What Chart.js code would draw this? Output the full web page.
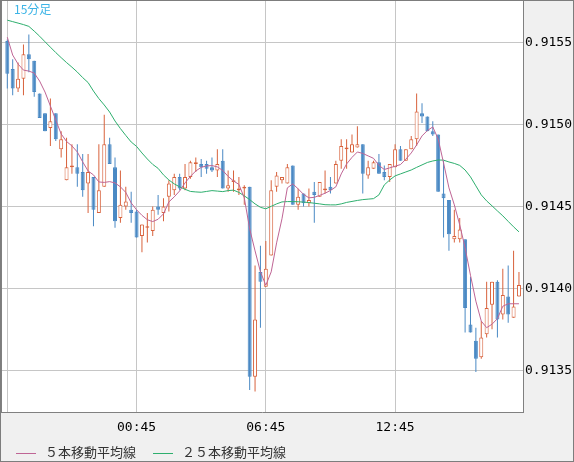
<!DOCTYPE html>
<html>
<head>
<meta charset="utf-8">
<title>15分足</title>
<script src="https://cdn.jsdelivr.net/npm/chart.js@4.4.0/dist/chart.umd.min.js"></script>
<style>
  body { margin:0; background:#f0f0f0; }
  #wrap { position:relative; width:574px; height:462px; box-sizing:border-box; border:1px solid #7d7d7d; background:#f0f0f0; }
  #chart { position:absolute; left:0; top:0; }
  #tf { position:absolute; left:13px; top:1px; font-family:"Noto Sans CJK JP"; font-size:12px; line-height:14px; color:#3cb4e6; }
  .item { position:absolute; top:443px; height:16px; font-family:"Noto Sans CJK JP"; font-size:13px; line-height:16px; color:#333; white-space:nowrap; }
  .item i { display:inline-block; width:20px; height:1px; margin-right:9px; vertical-align:middle; }
</style>
</head>
<body>
<div id="wrap">
  <canvas id="chart" width="572" height="460"></canvas>
  <div id="tf">15分足</div>
  <div class="item" style="left:15px"><i style="background:#bf6595"></i>５本移動平均線</div>
  <div class="item" style="left:152px"><i style="background:#2eaf6e"></i>２５本移動平均線</div>
</div>

<script>
// 15 minute candles
var opens = [0.91551,0.91534,0.91522,0.91528,0.91543,0.91539,0.91519,0.91507,0.91498,0.91507,
  0.91485,0.91466,0.91474,0.91474,0.91471,0.91464,0.91468,0.91446,0.91462,0.91488,
  0.91474,0.91443,0.91450,0.91448,0.91447,0.91432,0.91437,0.91435,0.91450,0.91446,
  0.91456,0.91460,0.91468,0.91461,0.91468,0.91476,0.91476,0.91476,0.91474,0.91472,
  0.91478,0.91461,0.91465,0.91460,0.91461,0.91462,0.91346,0.91410,0.91401,0.91420,
  0.91462,0.91466,0.91464,0.91475,0.91451,0.91458,0.91452,0.91459,0.91456,0.91460,
  0.91462,0.91464,0.91478,0.91485,0.91483,0.91486,0.91488,0.91469,0.91473,0.91477,
  0.91471,0.91468,0.91474,0.91485,0.91478,0.91485,0.91491,0.91507,0.91505,0.91496,
  0.91494,0.91458,0.91454,0.91430,0.91430,0.91430,0.91378,0.91368,0.91358,0.91372,
  0.91390,0.91404,0.91384,0.91395,0.91382,0.91395];
var highs = [0.91552,0.91540,0.91538,0.91549,0.91555,0.91539,0.91519,0.91507,0.91516,0.91507,
  0.91496,0.91492,0.91488,0.91488,0.91482,0.91482,0.91468,0.91488,0.91506,0.91492,
  0.91480,0.91472,0.91462,0.91459,0.91448,0.91439,0.91446,0.91450,0.91457,0.91455,
  0.91466,0.91470,0.91470,0.91476,0.91478,0.91480,0.91479,0.91478,0.91480,0.91485,
  0.91485,0.91472,0.91472,0.91468,0.91463,0.91462,0.91414,0.91426,0.91429,0.91466,
  0.91471,0.91468,0.91476,0.91475,0.91461,0.91458,0.91461,0.91465,0.91465,0.91472,
  0.91468,0.91478,0.91491,0.91491,0.91494,0.91499,0.91488,0.91478,0.91478,0.91482,
  0.91475,0.91476,0.91488,0.91487,0.91485,0.91493,0.91519,0.91513,0.91505,0.91502,
  0.91494,0.91478,0.91454,0.91448,0.91443,0.91430,0.91407,0.91376,0.91380,0.91404,
  0.91404,0.91405,0.91412,0.91414,0.91423,0.91410];
var lows = [0.91522,0.91518,0.91520,0.91518,0.91532,0.91517,0.91504,0.91496,0.91487,0.91490,
  0.91480,0.91466,0.91470,0.91462,0.91456,0.91446,0.91438,0.91446,0.91462,0.91476,
  0.91437,0.91440,0.91448,0.91440,0.91431,0.91422,0.91428,0.91432,0.91445,0.91441,
  0.91447,0.91457,0.91460,0.91460,0.91467,0.91471,0.91468,0.91470,0.91471,0.91468,
  0.91461,0.91459,0.91459,0.91457,0.91451,0.91338,0.91337,0.91376,0.91401,0.91420,
  0.91459,0.91464,0.91464,0.91451,0.91448,0.91450,0.91450,0.91440,0.91456,0.91458,
  0.91458,0.91464,0.91473,0.91473,0.91483,0.91486,0.91458,0.91467,0.91473,0.91470,
  0.91466,0.91465,0.91474,0.91478,0.91478,0.91485,0.91487,0.91501,0.91496,0.91493,
  0.91459,0.91431,0.91423,0.91428,0.91428,0.91373,0.91373,0.91349,0.91357,0.91370,
  0.91375,0.91370,0.91381,0.91379,0.91382,0.91395];
var closes = [0.91531,0.91522,0.91528,0.91543,0.91540,0.91520,0.91504,0.91496,0.91502,0.91491,
  0.91491,0.91474,0.91475,0.91470,0.91460,0.91471,0.91448,0.91460,0.91488,0.91476,
  0.91441,0.91451,0.91453,0.91446,0.91431,0.91439,0.91438,0.91448,0.91448,0.91450,
  0.91464,0.91468,0.91461,0.91468,0.91477,0.91477,0.91474,0.91473,0.91472,0.91476,
  0.91461,0.91463,0.91466,0.91461,0.91462,0.91346,0.91381,0.91404,0.91412,0.91460,
  0.91469,0.91468,0.91474,0.91451,0.91456,0.91452,0.91454,0.91457,0.91465,0.91461,
  0.91460,0.91476,0.91487,0.91486,0.91488,0.91488,0.91470,0.91474,0.91477,0.91470,
  0.91468,0.91476,0.91485,0.91478,0.91485,0.91491,0.91508,0.91505,0.91496,0.91494,
  0.91459,0.91455,0.91433,0.91432,0.91436,0.91388,0.91373,0.91357,0.91370,0.91388,
  0.91404,0.91381,0.91396,0.91384,0.91389,0.91402];

// moving averages as drawn
var ma5 = [0.915534,0.915425,0.91537,0.915333,0.915327,0.915315,0.915266,0.915199,0.915114,0.915028,
  0.914943,0.914897,0.91487,0.914833,0.914772,0.914717,0.914693,0.91465,0.914647,0.914652,
  0.914644,0.91462,0.914586,0.914522,0.91448,0.914446,0.914419,0.914408,0.914422,0.914455,
  0.914528,0.914559,0.914595,0.914644,0.914684,0.914717,0.914739,0.914748,0.91475,0.914742,
  0.91472,0.914684,0.914656,0.914635,0.914553,0.914364,0.914229,0.914101,0.914019,0.914101,
  0.914278,0.914425,0.914614,0.914638,0.914608,0.914574,0.914553,0.914556,0.914568,0.914581,
  0.914598,0.91462,0.914699,0.91476,0.9148,0.914833,0.914824,0.914809,0.914794,0.914751,
  0.914726,0.914736,0.914746,0.914756,0.914789,0.914827,0.914876,0.914931,0.914964,0.914986,
  0.914912,0.914766,0.914614,0.91451,0.914388,0.914248,0.91408,0.913922,0.9138,0.91376,
  0.913781,0.913815,0.913891,0.913906,0.913906,0.913906];
var ma25 = [0.915638,0.915629,0.91562,0.915611,0.9156,0.915571,0.91554,0.915506,0.915473,0.91544,
  0.915409,0.915379,0.915351,0.915321,0.915287,0.915257,0.915205,0.915159,0.91512,0.915077,
  0.915022,0.914976,0.914934,0.914894,0.914867,0.914827,0.91479,0.914757,0.914733,0.914693,
  0.914662,0.914638,0.91462,0.914605,0.914592,0.914589,0.914587,0.914592,0.914597,0.914594,
  0.914591,0.914597,0.9146,0.914586,0.914565,0.914542,0.914516,0.914495,0.914486,0.914501,
  0.914516,0.914528,0.91453,0.91453,0.914529,0.914527,0.914524,0.91452,0.914516,0.914511,
  0.91451,0.91451,0.914516,0.914525,0.914531,0.914537,0.914542,0.914545,0.914548,0.914571,
  0.914632,0.914662,0.914687,0.914699,0.914711,0.914723,0.914739,0.914754,0.914769,0.914778,
  0.914784,0.914783,0.914772,0.914763,0.914751,0.914723,0.914681,0.914626,0.914571,0.914534,
  0.914504,0.914473,0.914443,0.914409,0.914376,0.914345];

// x axis ticks (candle index) and price ticks
var tickPos = [0, 24, 48, 72];
var tickText = ['', '00:45', '06:45', '12:45'];
var priceTicks = [0.9135, 0.9140, 0.9145, 0.9150, 0.9155];

var UP = '#d8623c', DOWN = '#4a89c4', GRID = '#c6c6c6';

var bodies = [], wicks = [], upDown = [];
for (var i = 0; i < opens.length; i++) {
  bodies.push({x: i, y: [opens[i], closes[i]]});
  wicks.push({x: i, y: [lows[i], highs[i]]});
  upDown.push(closes[i] >= opens[i]);
}

// white plot area and left frame line
var plotFrame = {
  id: 'plotFrame',
  beforeDraw: function (chart) {
    var a = chart.chartArea, ctx = chart.ctx;
    ctx.save();
    ctx.fillStyle = '#ffffff';
    ctx.fillRect(a.left, a.top, a.right - a.left, a.bottom - a.top);
    ctx.restore();
  },
  afterDraw: function (chart) {
    var a = chart.chartArea, ctx = chart.ctx;
    ctx.save();
    ctx.strokeStyle = '#808080';
    ctx.lineWidth = 1;
    ctx.beginPath();
    ctx.moveTo(a.left + 0.5, a.top);
    ctx.lineTo(a.left + 0.5, a.bottom);
    ctx.stroke();
    ctx.restore();
  }
};

new Chart(document.getElementById('chart'), {
  type: 'bar',
  data: {
    datasets: [
      {
        type: 'line', label: '５本移動平均線', order: 0,
        data: ma5.map(function (v, i) { return {x: i, y: v}; }),
        borderColor: '#bf6595', borderWidth: 1, pointRadius: 0, tension: 0
      },
      {
        type: 'line', label: '２５本移動平均線', order: 0,
        data: ma25.map(function (v, i) { return {x: i, y: v}; }),
        borderColor: '#2eaf6e', borderWidth: 1, pointRadius: 0, tension: 0
      },
      {
        label: 'body', order: 1, grouped: false,
        data: bodies, barThickness: 4, inflateAmount: 0,
        backgroundColor: upDown.map(function (u) { return u ? '#ffffff' : DOWN; }),
        borderColor: upDown.map(function (u) { return u ? UP : DOWN; }),
        borderWidth: 1, borderSkipped: false
      },
      {
        label: 'wick', order: 2, grouped: false,
        data: wicks, barThickness: 1, inflateAmount: 0,
        backgroundColor: upDown.map(function (u) { return u ? UP : DOWN; }),
        borderWidth: 0
      }
    ]
  },
  options: {
    responsive: false,
    animation: false,
    devicePixelRatio: 1,
    layout: { padding: 0 },
    plugins: { legend: { display: false }, tooltip: { enabled: false } },
    scales: {
      x: {
        type: 'linear', min: -1.17, max: 95.75, offset: false,
        grid: { color: GRID, drawTicks: false, offset: false },
        border: { display: true, color: '#808080' },
        ticks: {
          autoSkip: false, maxRotation: 0, padding: 8, color: '#000',
          font: { family: 'DejaVu Sans Mono', size: 13 },
          callback: function (v) { var k = tickPos.indexOf(v); return k < 0 ? '' : tickText[k]; }
        },
        afterBuildTicks: function (s) { s.ticks = tickPos.map(function (v) { return {value: v}; }); },
        afterFit: function (s) { s.height = 49; s.paddingLeft = 0; s.paddingRight = 0; }
      },
      y: {
        position: 'right', min: 0.913245, max: 0.915755,
        grid: { color: GRID, drawTicks: false },
        border: { display: true, color: '#808080' },
        ticks: {
          padding: 2, color: '#000',
          font: { family: 'DejaVu Sans Mono', size: 13 },
          callback: function (v) { return v.toFixed(4); }
        },
        afterBuildTicks: function (s) { s.ticks = priceTicks.map(function (v) { return {value: v}; }); },
        afterFit: function (s) { s.width = 50; s.paddingTop = 0; s.paddingBottom = 0; }
      }
    }
  },
  plugins: [plotFrame]
});
</script>
</body>
</html>
